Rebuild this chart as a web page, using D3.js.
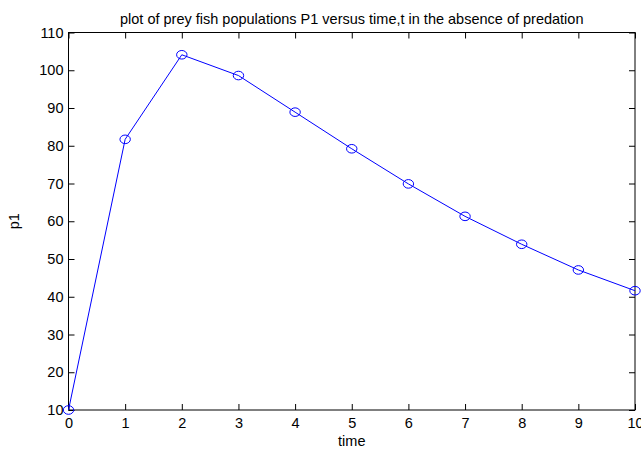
<!DOCTYPE html>
<html>
<head>
<meta charset="utf-8">
<script src="https://cdn.jsdelivr.net/npm/d3@7"></script>
<style>
  body { margin: 0; background: #fff; }
  svg { display: block; font-family: "Liberation Sans", Arial, sans-serif; }
</style>
</head>
<body>
<svg id="chart" width="641" height="450"></svg>
<script>
// data
const time = [0, 1, 2, 3, 4, 5, 6, 7, 8, 9, 10];
const p1 = [10, 81.7, 104.1, 98.6, 88.9, 79.2, 69.9, 61.3, 53.9, 47.1, 41.6];
const xTicks = [0, 1, 2, 3, 4, 5, 6, 7, 8, 9, 10];
const yTicks = [10, 20, 30, 40, 50, 60, 70, 80, 90, 100, 110];

const svg = d3.select("#chart");
const plotL = 68.5, plotR = 635, plotT = 32.5, plotB = 410;

const x = d3.scaleLinear().domain([0, 10]).range([plotL, plotR]);
const y = d3.scaleLinear().domain([10, 110]).range([plotB, plotT]);

// box
svg.append("rect")
  .attr("x", plotL).attr("y", plotT)
  .attr("width", plotR - plotL).attr("height", plotB - plotT)
  .attr("fill", "none").attr("stroke", "#000").attr("stroke-width", 1);

// ticks, inside like matlab
const tl = 6;
svg.append("g").attr("transform", `translate(0,${plotB})`)
  .call(d3.axisBottom(x).tickValues(xTicks).tickSizeInner(-tl).tickSizeOuter(0).tickPadding(8));
svg.append("g").attr("transform", `translate(${plotL},0)`)
  .call(d3.axisLeft(y).tickValues(yTicks).tickSizeInner(-tl).tickSizeOuter(0).tickPadding(5));
svg.append("g").attr("transform", `translate(0,${plotT})`)
  .call(d3.axisTop(x).tickValues(xTicks).tickSizeInner(-tl).tickSizeOuter(0).tickFormat(""));
svg.append("g").attr("transform", `translate(${plotR},0)`)
  .call(d3.axisRight(y).tickValues(yTicks).tickSizeInner(-tl).tickSizeOuter(0).tickFormat(""));

svg.selectAll(".domain").remove();
svg.selectAll(".tick line").attr("stroke", "#000");
svg.selectAll(".tick text")
  .attr("fill", "#000")
  .style("font-family", "'Liberation Sans', Arial, sans-serif")
  .style("font-size", "14.5px");

// line + markers
const line = d3.line().x((d, i) => x(time[i])).y(d => y(d));
svg.append("path")
  .datum(p1)
  .attr("d", line)
  .attr("fill", "none")
  .attr("stroke", "#0000ff")
  .attr("stroke-width", 1);

svg.append("g").selectAll("ellipse")
  .data(p1)
  .enter()
  .append("ellipse")
  .attr("cx", (d, i) => x(time[i]))
  .attr("cy", d => y(d))
  .attr("rx", 5.2)
  .attr("ry", 4.3)
  .attr("fill", "none")
  .attr("stroke", "#0000ff")
  .attr("stroke-width", 1);

// labels
svg.append("text")
  .attr("x", (plotL + plotR) / 2).attr("y", 24)
  .attr("text-anchor", "middle")
  .style("font-size", "14.5px")
  .text("plot of prey fish populations P1 versus time,t in the absence of predation");

svg.append("text")
  .attr("x", (plotL + plotR) / 2).attr("y", 446)
  .attr("text-anchor", "middle")
  .style("font-size", "14.5px")
  .text("time");

svg.append("text")
  .attr("transform", `translate(19,${(plotT + plotB) / 2}) rotate(-90)`)
  .attr("text-anchor", "middle")
  .style("font-size", "14.5px")
  .text("p1");
</script>
</body>
</html>
